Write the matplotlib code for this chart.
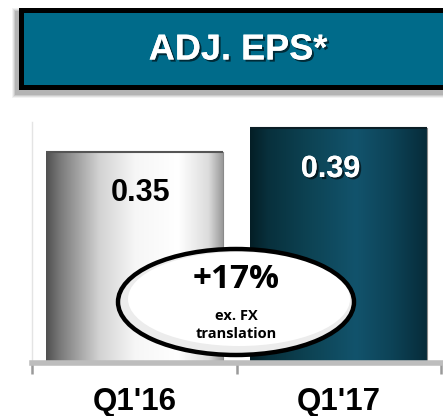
import numpy as np
import matplotlib
matplotlib.use("Agg")
import matplotlib.pyplot as plt
from matplotlib.patches import Rectangle, Ellipse
from matplotlib.colors import LinearSegmentedColormap
import matplotlib.patheffects as pe

# Data
categories = ["Q1'16", "Q1'17"]
eps_values = [0.35, 0.39]
value_labels = ["0.35", "0.39"]
title_text = "ADJ. EPS*"
growth_text = "+17%"
growth_note = "ex. FX\ntranslation"

W, H = 443, 416
fig = plt.figure(figsize=(W / 100, H / 100), dpi=100)
fig.patch.set_facecolor("white")

def fx(px):
    return px / W

def fy(py):
    return 1 - py / H

# ---- Title banner ----
bx0, by0, bx1, by1 = 19, 8, 450, 90
for i, a in enumerate([0.05, 0.07, 0.09, 0.11]):
    off = 4 - i
    fig.patches.append(Rectangle((fx(bx0 - 3 - off), fy(by1 + 4 + off)),
                                 fx(bx1 - bx0 + 2 * off), (by1 - by0 + 2 * off) / H,
                                 transform=fig.transFigure, facecolor="black",
                                 alpha=a, edgecolor="none", zorder=0))
fig.patches.append(Rectangle((fx(bx0), fy(by1)), fx(bx1 - bx0), (by1 - by0) / H,
                             transform=fig.transFigure, facecolor="black",
                             edgecolor="none", zorder=1))
fig.patches.append(Rectangle((fx(24), fy(85)), fx(bx1 - 24), (85 - 13) / H,
                             transform=fig.transFigure, facecolor="#006b8a",
                             edgecolor="none", zorder=2))
fig.text(fx(238), fy(50), title_text, color="white", fontsize=26,
         fontweight="bold", family="Liberation Sans", ha="center", va="center",
         zorder=3,
         path_effects=[pe.withSimplePatchShadow(offset=(1.5, -1.5), shadow_rgbFace="black", alpha=0.6),
                       pe.Normal()])

# ---- Bar chart ----
ax = fig.add_axes([fx(32), 53 / H, fx(441) - fx(32), 241 / H])
ax.set_xlim(-0.5, 1.5)
ax.set_ylim(0, 0.40)
ax.set_facecolor("none")

x = np.arange(len(categories))
bars = ax.bar(x, eps_values, width=0.865, color="none", edgecolor="none", zorder=2)

silver = LinearSegmentedColormap.from_list("silver", [
    (0.0, "#505050"), (0.08, "#7a7a7a"), (0.3, "#d2d2d2"), (0.5, "#f6f6f6"),
    (0.75, "#ffffff"), (0.92, "#dcdcdc"), (1.0, "#9a9a9a")])
teal = LinearSegmentedColormap.from_list("teal", [
    (0.0, "#041e26"), (0.1, "#08303c"), (0.35, "#0d4455"), (0.6, "#12536c"),
    (0.8, "#0d4357"), (1.0, "#072c3a")])
grad = np.linspace(0, 1, 256).reshape(1, -1)

for bar, cmap, edge in zip(bars, [silver, teal], ["#555555", "#0a1e26"]):
    x0, w, h = bar.get_x(), bar.get_width(), bar.get_height()
    im = ax.imshow(grad, cmap=cmap, aspect="auto", extent=(x0, x0 + w, 0, h),
                   zorder=2, interpolation="bicubic")
    im.set_clip_path(bar)
    ax.plot([x0, x0 + w], [h, h], color=edge, lw=1.5, zorder=3,
            solid_capstyle="butt")
    ax.plot([x0 + w, x0 + w], [0, h], color="#8a8a8a", lw=0.8, zorder=3)

ax.set_xlim(-0.5, 1.5)
ax.set_ylim(0, 0.40)

# value labels
ax.text(x[0] + 0.03, eps_values[0] - 0.068, value_labels[0], ha="center",
        va="center", fontsize=22, fontweight="bold", family="Liberation Sans",
        color="black", zorder=5)
ax.text(x[1] - 0.04, eps_values[1] - 0.068, value_labels[1], ha="center",
        va="center", fontsize=22, fontweight="bold", family="Liberation Sans",
        color="white", zorder=5,
        path_effects=[pe.withSimplePatchShadow(offset=(1.5, -1.5), shadow_rgbFace="black", alpha=0.6),
                      pe.Normal()])

# axis styling
for s in ["top", "right"]:
    ax.spines[s].set_visible(False)
ax.spines["left"].set_color("#e4e4e4")
ax.spines["left"].set_linewidth(1)
ax.spines["bottom"].set_color("#bdbdbd")
ax.spines["bottom"].set_linewidth(4)
ax.spines["bottom"].set_zorder(4)
ax.set_yticks([])
ax.set_xticks([-0.5, 0.5, 1.5])
ax.set_xticklabels([])
ax.tick_params(axis="x", length=8, width=1.8, color="#9a9a9a", direction="out")
for xi, cat in zip(x, categories):
    ax.text(xi, -0.065, cat, ha="center", va="center", fontsize=22.5,
            fontweight="bold", family="Liberation Sans", color="black",
            clip_on=False)

# ---- Growth callout ----
ecx, ecy, ew, eh = 236, 302, 236, 106
fig.patches.append(Ellipse((fx(ecx), fy(ecy)), fx(ew), eh / H,
                           transform=fig.transFigure, facecolor="#ececec",
                           edgecolor="none", zorder=6))
ell_in = Ellipse((fx(ecx + 3), fy(ecy - 3)), fx(ew - 14), (eh - 12) / H,
                 transform=fig.transFigure, facecolor="white",
                 edgecolor="none", zorder=7)
fig.patches.append(ell_in)
fig.patches.append(Ellipse((fx(ecx), fy(ecy)), fx(ew), eh / H,
                           transform=fig.transFigure, facecolor="none",
                           edgecolor="black", lw=3.2, zorder=8))
fig.text(fx(236), fy(279), growth_text, ha="center", va="center", fontsize=24,
         fontweight="bold", family="Open Sans", color="black", zorder=9)
fig.text(fx(236), fy(325), growth_note, ha="center", va="center", fontsize=10.5,
         fontweight="bold", family="Open Sans", color="black", zorder=9,
         linespacing=1.3)

fig.savefig("out.png", dpi=100, facecolor="white")
